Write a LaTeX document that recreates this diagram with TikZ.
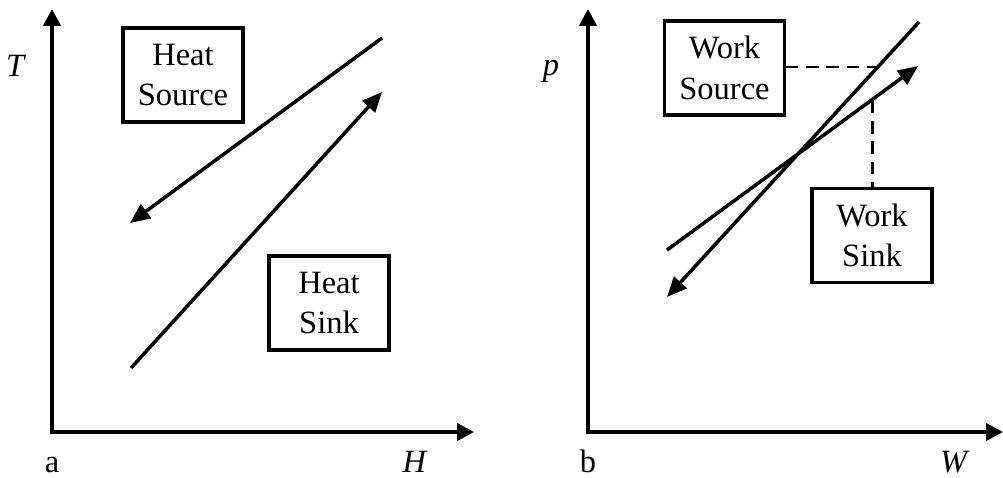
\documentclass[tikz,border=0pt]{standalone}
\usepackage{fontspec}
\setmainfont{Liberation Serif}
\usetikzlibrary{arrows.meta,positioning}

\begin{document}
\begin{tikzpicture}[x=0.02cm,y=-0.02cm,
  every node/.style={font=\fontsize{18.5}{23}\selectfont},
  box/.style={draw,line width=1.8pt,minimum width=2.4cm,minimum height=1.88cm,align=center,inner sep=0pt},
  axis/.style={line width=2.3pt,-{Triangle[length=0.34cm,width=0.34cm]}},
  flow/.style={line width=2pt,-{Triangle[length=0.4cm,width=0.34cm]}},
  guide/.style={line width=1.7pt,dash pattern=on 7pt off 4.5pt},
  lbl/.style={anchor=base,inner sep=0pt}]
\useasboundingbox (0,0) rectangle (1003,477);

% Panel a: T over H
\coordinate (oa) at (52,434);
\coordinate (ta) at (52,9);
\coordinate (ha) at (474,432);
\draw[axis] (oa) -- (ta);
\draw[axis] ([xshift=-1.1pt]oa |- ha) -- (ha);
\node[lbl] (lT) at (16,76) {\textit{T}};
\node[lbl] (lH) at (415,472) {\textit{H}};
\node[lbl] (la) at (52,472) {a};

\node[box] (hsrc) at (183,75) {Heat\\Source};
\node[box] (hsnk) at (329,303) {Heat\\Sink};

\coordinate (s1) at (382,38);  \coordinate (e1) at (130,223);
\coordinate (s2) at (131,368); \coordinate (e2) at (382,92);
\draw[flow] (s1) -- (e1);
\draw[flow] (s2) -- (e2);

% Panel b: p over W
\coordinate (ob) at (588,434);
\coordinate (tb) at (588,9);
\coordinate (wb) at (1003,432);
\draw[axis] (ob) -- (tb);
\draw[axis] ([xshift=-1.1pt]ob |- wb) -- (wb);
\node[lbl] (lp) at (551,75) {\textit{p}};
\node[lbl] (lW) at (955,472) {\textit{W}};
\node[lbl] (lb) at (588,472) {b};

\node[box] (wsrc) at (724.5,68) {Work\\Source};
\node[box] (wsnk) at (872,235.5) {Work\\Sink};

\coordinate (s3) at (919,22);  \coordinate (e3) at (667,297);
\coordinate (s4) at (667,250); \coordinate (e4) at (918,66);
\draw[flow] (s3) -- (e3);
\draw[flow] (s4) -- (e4);

% dashed guides to the lines
\coordinate (c3) at (877,67);
\coordinate (c4) at (872,101);
\draw[guide] (wsrc.east |- c3) -- (c3);
\draw[guide] (c4) -- (wsnk.north);
\end{tikzpicture}
\end{document}
